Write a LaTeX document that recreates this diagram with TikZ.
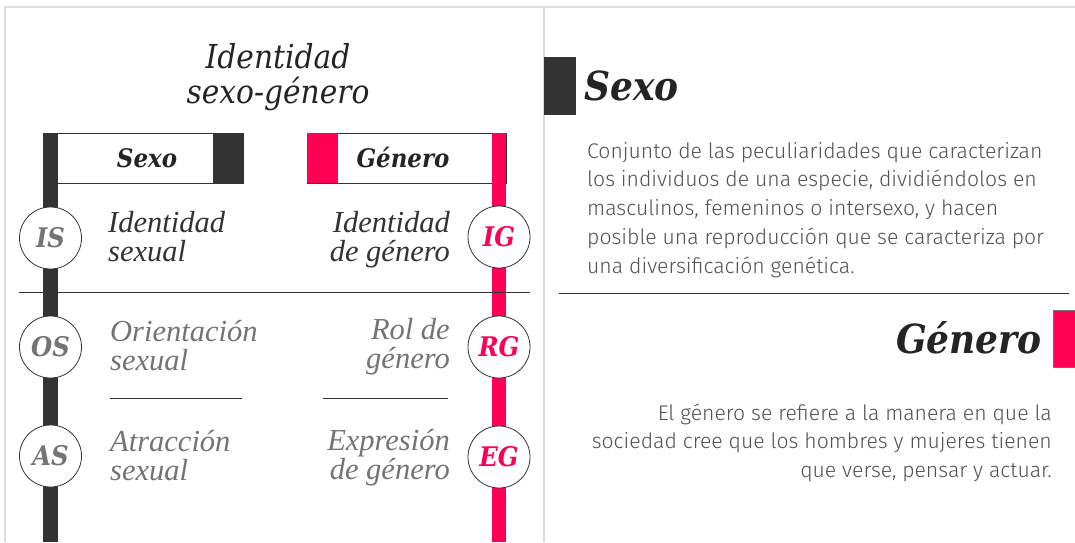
\documentclass[tikz,border=0pt]{standalone}
\usepackage{fontspec}
\newfontfamily\bodyfont{Fira Sans Light}
\newfontfamily\headfont{DejaVu Serif Condensed}
\newfontfamily\traitfont{Liberation Serif}
\usetikzlibrary{positioning}
\definecolor{ink}{HTML}{333333}
\definecolor{rosa}{HTML}{FF0055}
\definecolor{mute}{HTML}{747474}
\definecolor{frame}{HTML}{DDDDDD}
\newcommand{\rows}[2]{\begin{tabular}[t]{@{}#1@{}}#2\end{tabular}}

\begin{document}
\begin{tikzpicture}[x=1pt,y=-1pt,
  badge/.style={circle,draw=ink,line width=.8pt,fill=white,minimum size=62pt,inner sep=0pt,font=\headfont\fontsize{27}{27}\selectfont\bfseries\itshape},
  trait/.style={inner sep=0pt,font=\traitfont\fontsize{30.5}{27}\selectfont\itshape},
  headbox/.style={draw=ink,line width=.8pt,fill=white,minimum height=50pt,inner sep=0pt,anchor=north west},
  headlab/.style={inner sep=0pt,anchor=base,text=ink!70!black,font=\headfont\fontsize{25.5}{26}\selectfont\bfseries\itshape},
  bighead/.style={inner sep=0pt,text=ink!70!black,font=\headfont\fontsize{40}{41}\selectfont\bfseries\itshape},
  body/.style={inner sep=0pt,text=ink!85,font=\bodyfont\fontsize{21.2}{28.8}\selectfont}]
 \useasboundingbox (0,0) rectangle (1075,542);
 \fill[white] (0,0) rectangle (1075,542);
 % frame
 \draw[frame,line width=1.2pt] (5,542) -- (5,7) -- (1075,7);
 \draw[frame,line width=1.2pt] (544,7) -- (544,542);
 % left panel
 \node[inner sep=0pt,anchor=base,text=ink!70!black,font=\headfont\fontsize{33}{31}\selectfont\itshape] (title) at (278,68) {\rows{c}{Identidad\\sexo-género}};
 \coordinate (sexfoot) at (50.5,542);
 \coordinate (genfoot) at (499,542);
 \node[headbox,minimum width=200pt] (sexhead) at (43,133) {};
 \node[headbox,minimum width=199pt] (genhead) at (307,133) {};
 \fill[ink] (sexhead.north east) rectangle ++(-31,50);
 \fill[rosa] (genhead.north west) rectangle ++(31,50);
 \draw[ink,line width=15pt] (sexhead.north west -| sexfoot) -- (sexfoot);
 \draw[rosa,line width=14pt] (genhead.north east -| genfoot) -- (genfoot);
 \node[headlab] (sexlab) at (147,167) {Sexo};
 \node[headlab] (genlab) at (403,167) {Género};
 \draw[ink,line width=1pt] (19,292) -- (530,292);
 \draw[ink,line width=1pt] (110,398) -- (242,398);
 \draw[ink,line width=1pt] (323,398) -- (448,398);
 \node[badge,text=mute] (is) at (50.5,238) {IS};
 \node[badge,text=mute] (os) at (50.5,347) {OS};
 \node[badge,text=mute] (as) at (50.5,456) {AS};
 \node[badge,text=rosa] (ig) at (499,237) {IG};
 \node[badge,text=rosa] (rg) at (499,347) {RG};
 \node[badge,text=rosa] (eg) at (499,457) {EG};
 \node[trait,text=ink,anchor=base west] (islab) at (108,232) {\rows{l}{Identidad\\sexual}};
 \node[trait,text=mute,anchor=base west] (oslab) at (110,341) {\rows{l}{Orientación\\sexual}};
 \node[trait,text=mute,anchor=base west] (aslab) at (110,451) {\rows{l}{Atracción\\sexual}};
 \node[trait,text=ink,anchor=base east] (iglab) at (450,232) {\rows{r}{Identidad\\de género}};
 \node[trait,text=mute,anchor=base east] (rglab) at (450,339) {\rows{r}{Rol de\\género}};
 \node[trait,text=mute,anchor=base east] (eglab) at (450,450) {\rows{r}{Expresión\\de género}};
 % right panel
 \node[fill=ink,minimum width=32pt,minimum height=58pt,inner sep=0pt,anchor=north west] (sexmark) at (544,57) {};
 \node[bighead,anchor=base west] (sexhd) at (584,100) {Sexo};
 \node[body,anchor=base west] (sexdef) at (587,158) {\rows{l}{Conjunto de las peculiaridades que caracterizan\\los individuos de una especie, dividiéndolos en\\masculinos, femeninos o intersexo, y hacen\\posible una reproducción que se caracteriza por\\una diversificación genética.}};
 \draw[ink,line width=1pt] (559,293) -- (1069,293);
 \node[fill=rosa,draw=ink!70,minimum width=26pt,minimum height=57pt,inner sep=0pt,anchor=north west] (genmark) at (1053,310) {};
 \node[bighead,anchor=base east] (genhd) at (1042,353) {Género};
 \node[body,anchor=base east] (gendef) at (1052,420) {\rows{r}{El género se refiere a la manera en que la\\sociedad cree que los hombres y mujeres tienen\\que verse, pensar y actuar.}};
\end{tikzpicture}
\end{document}
